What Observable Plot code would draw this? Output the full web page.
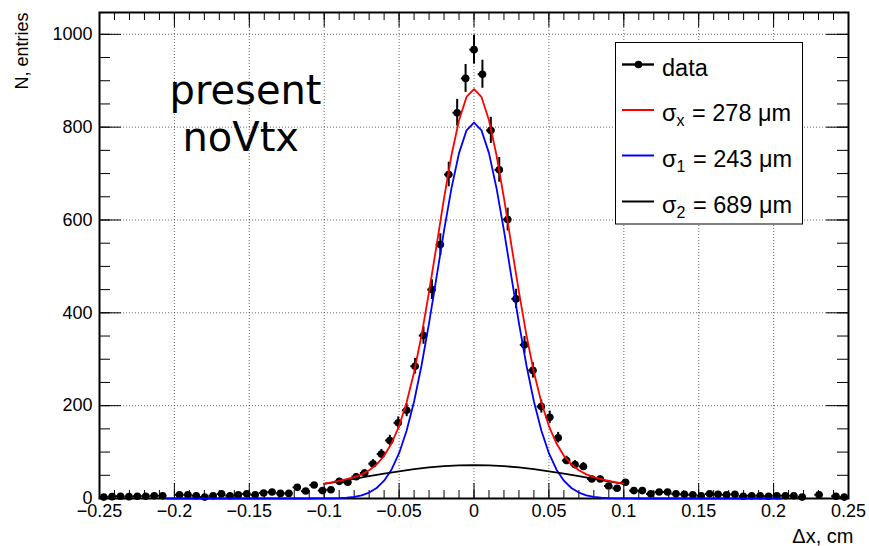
<!DOCTYPE html>
<html><head><meta charset="utf-8">
<script src="https://cdn.jsdelivr.net/npm/d3@7"></script>
<script src="https://cdn.jsdelivr.net/npm/@observablehq/plot@0.6"></script>
<style>body{margin:0;background:#fff}</style>
</head><body><div id="chart"></div>
<script>
// ---- data ----
const xTicks = [-0.25, -0.2, -0.15, -0.1, -0.05, 0, 0.05, 0.1, 0.15, 0.2, 0.25];
const yTicks = [0, 200, 400, 600, 800, 1000];
const histLow = -0.25, histHigh = 0.25;
// entries per bin, 89 bins from -0.25 to 0.25
const counts = [
  3, 4, 5, 4, 5, 5, 6, 6, 0, 8, 8, 6, 3, 6, 10, 6, 8, 10, 8, 12, 14, 11,
  11, 24, 16, 29, 17, 19, 37, 35, 47, 55, 75, 96, 125, 163, 190, 285, 351, 450, 547, 698,
  831, 905, 967, 914, 793, 708, 601, 430, 331, 276, 198, 175, 131, 82, 73, 69,
  42, 42, 27, 22, 35, 17, 17, 10, 14, 14, 10, 9, 8, 6, 10, 9, 8, 9, 5, 6, 6, 5,
  6, 6, 6, 3, 0, 8, 0, 5, 3
];
// total fit (red), sampled from -0.1 to 0.1 every 0.005
const redStart = -0.1, redStep = 0.005;
const redVals = [31.9, 34.7, 37.9, 41.6, 46, 52, 61, 73.5, 92, 119, 156, 207, 272, 352, 445, 545, 647, 740, 815, 865,
  882,
  865, 815, 740, 647, 545, 445, 352, 272, 207, 156, 119, 92, 73.5, 61, 52, 46, 41.6, 37.9, 34.7, 31.9];
// narrow gaussian (blue), from -0.205 to 0.205 every 0.005
const blueStart = -0.205, blueStep = 0.005;
const blueVals = [0, 0, 0, 0, 0, 0, 0, 0, 0, 0, 0, 0, 0, 0, 0, 0, 0, 0, 0, 0,
  0.08, 0.2, 0.4, 0.85, 1.8, 3.6, 6.9, 12.8, 22.6, 38.4, 62.5, 97.5, 146, 209, 287, 378, 477, 577, 669, 744, 793,
  810,
  793, 744, 669, 577, 477, 378, 287, 209, 146, 97.5, 62.5, 38.4, 22.6, 12.8, 6.9, 3.6, 1.8, 0.85, 0.4, 0.2, 0.08,
  0, 0, 0, 0, 0, 0, 0, 0, 0, 0, 0, 0, 0, 0, 0, 0, 0, 0, 0, 0];
// wide gaussian (black), from -0.1 to 0.1 every 0.01
const blackStart = -0.1, blackStep = 0.01;
const blackVals = [31.7, 37, 42.5, 48.1, 53.6, 58.6, 63.1, 66.9, 69.7, 71.4, 72, 71.4, 69.7, 66.9, 63.1, 58.6, 53.6, 48.1, 42.5, 37, 31.7];
const legendNames = ["data", "x", "1", "2"];
const legendValues = ["", "278", "243", "689"];
const legendColors = ["#000000", "#ff0000", "#0000ff", "#000000"];

// ---- derived tables ----
const binW = (histHigh - histLow) / counts.length;
const points = counts.map((n, i) => ({x: histLow + (i + 0.5) * binW, n, e: Math.sqrt(n)})).filter(d => d.n > 0);
const toLine = (start, step, vals) => vals.map((v, i) => ({x: start + i * step, y: v}));
const red = toLine(redStart, redStep, redVals);
const blue = toLine(blueStart, blueStep, blueVals);
const black = toLine(blackStart, blackStep, blackVals);
const xMinor = d3.range(0, 51).map(i => -0.25 + i * 0.01);
const yMinor = d3.range(0, 21).map(i => i * 50);

const W = 869, H = 546, mL = 99, mR = 21, mT = 12, mB = 48;
const iw = W - mL - mR, ih = H - mT - mB;
const font = "'Liberation Sans', Arial, Helvetica, sans-serif";

const svg = Plot.plot({
  width: W, height: H,
  marginLeft: mL, marginRight: mR, marginTop: mT, marginBottom: mB,
  x: {domain: [-0.25, 0.25]},
  y: {domain: [0, 1047]},
  style: {fontFamily: font, fontSize: "18px", background: "#fff", color: "#000"},
  marks: [
    Plot.gridX(xTicks, {stroke: "#000", strokeOpacity: 0.6, strokeDasharray: "1,2"}),
    Plot.gridY(yTicks, {stroke: "#000", strokeOpacity: 0.6, strokeDasharray: "1,2"}),
    // inward ticks: left / right
    Plot.ruleY(yTicks, {y: d => d, insetRight: iw - 22, stroke: "#000"}),
    Plot.ruleY(yMinor, {y: d => d, insetRight: iw - 11, stroke: "#000"}),
    Plot.ruleY(yTicks, {y: d => d, insetLeft: iw - 22, stroke: "#000"}),
    Plot.ruleY(yMinor, {y: d => d, insetLeft: iw - 11, stroke: "#000"}),
    // inward ticks: bottom / top
    Plot.ruleX(xTicks, {x: d => d, insetTop: ih - 15, stroke: "#000"}),
    Plot.ruleX(xMinor, {x: d => d, insetTop: ih - 8, stroke: "#000"}),
    Plot.ruleX(xTicks, {x: d => d, insetBottom: ih - 15, stroke: "#000"}),
    Plot.ruleX(xMinor, {x: d => d, insetBottom: ih - 8, stroke: "#000"}),
    Plot.frame({stroke: "#000", strokeWidth: 2}),
    Plot.axisX(xTicks, {anchor: "bottom", tickSize: 0, tickPadding: 6, label: null, tickFormat: d3.format(""), fontSize: 18}),
    Plot.axisY(yTicks, {anchor: "left", tickSize: 0, tickPadding: 7, label: null, tickFormat: d3.format(""), fontSize: 18}),
    // data with error bars
    Plot.ruleX(points, {x: "x", y1: d => d.n - d.e, y2: d => d.n + d.e, stroke: "#000", strokeWidth: 2}),
    Plot.ruleY(points, {y: "n", x1: d => d.x - binW / 2, x2: d => d.x + binW / 2, stroke: "#000", strokeWidth: 2}),
    Plot.dot(points, {x: "x", y: "n", r: 3.8, fill: "#000"}),
    // fit curves
    Plot.line(blue, {x: "x", y: "y", stroke: "#0000ff", strokeWidth: 1.8}),
    Plot.line(black, {x: "x", y: "y", stroke: "#000", strokeWidth: 1.8}),
    Plot.line(red, {x: "x", y: "y", stroke: "#ff0000", strokeWidth: 1.8}),
    // texts
    Plot.text(["present"], {text: d => d, frameAnchor: "top-left", dx: 70, dy: 91, textAnchor: "start", lineAnchor: "bottom", fontSize: 40, fontFamily: "'DejaVu Sans', sans-serif"}),
    Plot.text(["noVtx"], {text: d => d, frameAnchor: "top-left", dx: 83, dy: 138, textAnchor: "start", lineAnchor: "bottom", fontSize: 40, fontFamily: "'DejaVu Sans', sans-serif"}),
    Plot.text(["N, entries"], {text: d => d, frameAnchor: "top-left", rotate: -90, textAnchor: "end", lineAnchor: "middle", dx: -77.5, dy: 0, fontSize: 18}),
    Plot.text(["\u0394x, cm"], {text: d => d, frameAnchor: "bottom-right", textAnchor: "end", lineAnchor: "bottom", dx: 5, dy: 44, fontSize: 20})
  ]
});
document.getElementById("chart").appendChild(svg);

// legend (inside the frame, top-right)
const lg = d3.select(svg).append("g").attr("font-family", font).attr("text-anchor", "start");
lg.append("rect").attr("x", 615.5).attr("y", 42.5).attr("width", 187).attr("height", 181.5)
  .attr("fill", "#fff").attr("stroke", "#000").attr("stroke-width", 1);
const rowY = [64.5, 110, 155.5, 201.5];
legendNames.forEach((name, i) => {
  const y = rowY[i];
  lg.append("line").attr("x1", 622).attr("x2", 654).attr("y1", y).attr("y2", y)
    .attr("stroke", legendColors[i]).attr("stroke-width", i === 0 ? 2.4 : 2);
  if (i === 0) lg.append("circle").attr("cx", 638.5).attr("cy", y).attr("r", 3.8).attr("fill", "#000");
  const t = lg.append("text").attr("x", 662).attr("y", y + 11).attr("font-size", 23.5)
    .attr("fill", "#000").attr("text-anchor", "start");
  if (i === 0) {
    t.text(name);
  } else {
    t.append("tspan").text("\u03c3");
    t.append("tspan").attr("font-size", 16).attr("dy", 5).text(name);
    t.append("tspan").attr("dy", -5).attr("dx", 1).text(" = " + legendValues[i] + " \u03bcm");
  }
});
</script></body></html>
